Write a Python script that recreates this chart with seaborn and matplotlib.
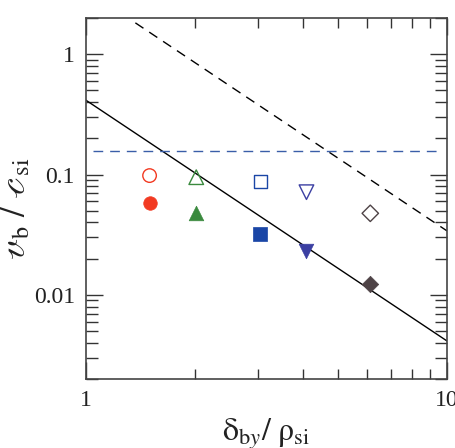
import numpy as np
import pandas as pd
import matplotlib
matplotlib.use("Agg")
import matplotlib.pyplot as plt
import matplotlib.ticker as mticker
import seaborn as sns

# measured points (open = upper set, filled = lower set)
x_pts = [1.50, 2.02, 3.04, 4.08, 6.13]
y_open = [0.098, 0.095, 0.0875, 0.0713, 0.0476]
y_filled = [0.0577, 0.0476, 0.0322, 0.0233, 0.0124]
markers = ["o", "^", "s", "v", "D"]
colors = ["#f23a22", "#3a8a3e", "#1a46a6", "#3b3fa2", "#4e4346"]

# model lines (end points)
solid_x = [1.0, 10.0]
solid_y = [0.414, 0.00414]
dashed_x = [1.37, 10.0]
dashed_y = [1.82, 0.034]
hline_x = [1.045, 9.55]
hline_y = [0.1575, 0.1575]

sns.set_style("ticks")
plt.rcParams["font.family"] = ["Liberation Serif", "DejaVu Serif"]
plt.rcParams["mathtext.fontset"] = "stix"

fig = plt.figure(figsize=(4.56, 4.48), dpi=100)
ax = fig.add_axes([0.1886, 0.154, 0.7917, 0.806])

sns.lineplot(x=solid_x, y=solid_y, ax=ax, color="black", linewidth=1.0)
sns.lineplot(x=dashed_x, y=dashed_y, ax=ax, color="black", linewidth=1.0,
             linestyle=(0, (7, 5)))
sns.lineplot(x=hline_x, y=hline_y, ax=ax, color="#3a5ea8", linewidth=1.0,
             linestyle=(0, (7, 5)))

sizes = {"o": 95, "^": 110, "s": 90, "v": 110, "D": 70}
for xv, yo, yf, m, c in zip(x_pts, y_open, y_filled, markers, colors):
    sns.scatterplot(x=[xv], y=[yo], ax=ax, marker=m, s=sizes[m],
                    facecolor="none", edgecolor=c, linewidth=1.0, zorder=3)
    sns.scatterplot(x=[xv], y=[yf], ax=ax, marker=m, s=sizes[m],
                    color=c, edgecolor=c, linewidth=0.5, zorder=3)

ax.set_xscale("log")
ax.set_yscale("log")
ax.set_xlim(1, 10)
ax.set_ylim(0.002, 2)

ax.xaxis.set_major_locator(mticker.FixedLocator([1, 10]))
ax.xaxis.set_major_formatter(mticker.FixedFormatter(["1", "10"]))
ax.xaxis.set_minor_locator(mticker.LogLocator(base=10, subs=np.arange(2, 10)))
ax.xaxis.set_minor_formatter(mticker.NullFormatter())
ax.yaxis.set_major_locator(mticker.FixedLocator([0.01, 0.1, 1]))
ax.yaxis.set_major_formatter(mticker.FixedFormatter(["0.01", "0.1", "1"]))
ax.yaxis.set_minor_locator(mticker.LogLocator(base=10, subs=np.arange(2, 10)))
ax.yaxis.set_minor_formatter(mticker.NullFormatter())

for s in ax.spines.values():
    s.set_color("#444444")
    s.set_linewidth(1.2)

ax.tick_params(which="both", direction="in", top=True, right=True,
               color="#333333", width=1.0, labelsize=17, labelcolor="#222222")
ax.tick_params(axis="y", which="major", length=12, pad=8)
ax.tick_params(axis="y", which="minor", length=8.5)
ax.tick_params(axis="x", which="major", length=12, pad=8)
ax.tick_params(axis="x", which="minor", length=7)

ax.set_xlabel(r"$\mathrm{\delta}_{\mathrm{b}\mathit{y}}/\ \mathrm{\rho}_{\mathrm{si}}$",
              fontsize=23, color="#222222", labelpad=4)
ax.set_ylabel(r"$\mathscr{v}_\mathrm{b}\ /\ \mathscr{c}_\mathrm{si}$", fontsize=25,
              color="#222222")
ax.yaxis.set_label_coords(-0.147, 0.47)

fig.savefig("out.png", dpi=100)
